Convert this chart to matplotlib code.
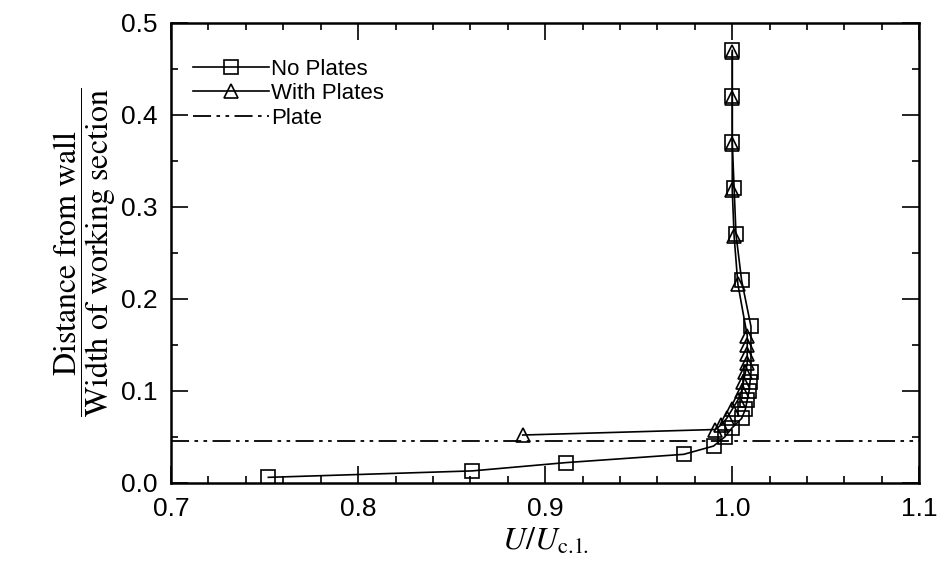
import matplotlib
matplotlib.use('Agg')
import matplotlib.pyplot as plt
from matplotlib.legend_handler import HandlerLine2D
from matplotlib.ticker import MultipleLocator

# velocity profiles, U/Uc.l. against distance from wall / width
no_plates_u = [0.752, 0.861, 0.911, 0.974, 0.990, 0.996, 1.000, 1.005, 1.007, 1.008,
               1.009, 1.0095, 1.010, 1.010, 1.005, 1.002, 1.001, 1.000, 1.000, 1.000]
no_plates_y = [0.006, 0.013, 0.022, 0.031, 0.040, 0.050, 0.060, 0.070, 0.080, 0.090,
               0.100, 0.110, 0.120, 0.170, 0.220, 0.270, 0.320, 0.370, 0.420, 0.470]

with_plates_u = [0.888, 0.991, 0.994, 0.997, 1.000, 1.003, 1.005, 1.006, 1.007, 1.008,
                 1.008, 1.008, 1.008, 1.003, 1.001, 1.000, 1.000, 1.000, 1.000]
with_plates_y = [0.052, 0.058, 0.063, 0.070, 0.080, 0.090, 0.100, 0.110, 0.120, 0.130,
                 0.140, 0.150, 0.160, 0.216, 0.268, 0.318, 0.368, 0.418, 0.468]

plate_y = 0.045


class EndMarker(HandlerLine2D):
    # marker sits at the right end of the legend line
    def get_xdata(self, legend, xdescent, ydescent, width, height, fontsize):
        xdata, _ = super().get_xdata(legend, xdescent, ydescent, width, height, fontsize)
        return xdata, [xdata[-1] - 0.12 * width]


plt.rcParams['font.family'] = 'Liberation Sans'
plt.rcParams['mathtext.fontset'] = 'stix'

fig = plt.figure(figsize=(9.4, 5.86), dpi=100)
ax = fig.add_axes([0.182, 0.176, 0.796, 0.785])

l1, = ax.plot(no_plates_u, no_plates_y, color='black', lw=1.2, marker='s', ms=9.5,
              mfc='none', mec='black', mew=1.2, label='No Plates')
l2, = ax.plot(with_plates_u, with_plates_y, color='black', lw=1.2, marker='^', ms=10.5,
              mfc='none', mec='black', mew=1.2, label='With Plates')
l3 = ax.axhline(plate_y, color='black', lw=1.3, dashes=(10, 3, 2, 3, 2, 3), label='Plate')

ax.set_xlim(0.7, 1.1)
ax.set_ylim(0.0, 0.5)
ax.xaxis.set_major_locator(MultipleLocator(0.1))
ax.xaxis.set_minor_locator(MultipleLocator(0.02))
ax.yaxis.set_major_locator(MultipleLocator(0.1))
ax.yaxis.set_minor_locator(MultipleLocator(0.05))
ax.xaxis.set_major_formatter(plt.FormatStrFormatter('%.1f'))
ax.yaxis.set_major_formatter(plt.FormatStrFormatter('%.1f'))
ax.tick_params(which='both', direction='in', top=True, right=True, width=1.2)
ax.tick_params(which='major', length=12, labelsize=19, pad=10)
ax.tick_params(which='minor', length=5)
for s in ax.spines.values():
    s.set_linewidth(1.8)

ax.set_xlabel(r'$U/U_{\mathrm{c.l.}}$', fontsize=23, labelpad=4)
ax.set_ylabel(r'$\dfrac{\mathrm{Distance\ from\ wall}}{\mathrm{Width\ of\ working\ section}}$',
              fontsize=23, labelpad=2)

leg = ax.legend(handles=[l1, l2, l3], loc='upper left', frameon=False, fontsize=16,
                handlelength=3.4, handletextpad=0.1, labelspacing=0.15,
                borderaxespad=0.6, bbox_to_anchor=(0.0, 0.97),
                handler_map={l1: EndMarker(numpoints=1), l2: EndMarker(numpoints=1)})

plt.savefig('out.png', dpi=100)
